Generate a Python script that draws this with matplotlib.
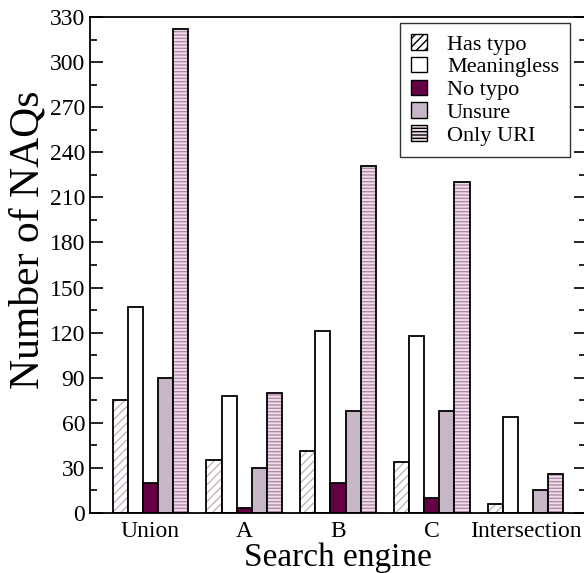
import numpy as np
import matplotlib.pyplot as plt
from matplotlib.ticker import MultipleLocator

plt.rcParams['font.family'] = ['Liberation Serif', 'DejaVu Serif']
plt.rcParams['hatch.linewidth'] = 1.0

# data
engines = ["Union", "A", "B", "C", "Intersection"]
has_typo = [75, 35, 41, 34, 6]
meaningless = [137, 78, 121, 118, 64]
no_typo = [20, 3, 20, 10, 0]
unsure = [90, 30, 68, 68, 15]
only_uri = [322, 80, 231, 220, 26]

series = [
    ("Has typo", has_typo, "white", "////", "#c4b4c4"),
    ("Meaningless", meaningless, "white", None, None),
    ("No typo", no_typo, "#660044", None, None),
    ("Unsure", unsure, "#c6b6c6", None, None),
    ("Only URI", only_uri, "#efdde9", "-----", "#b08ca8"),
]

fig = plt.figure(figsize=(5.84, 5.73), dpi=100)
ax = fig.add_axes([90 / 584, 60 / 573, 496 / 584, 496 / 573])

x = np.arange(len(engines))
w = 0.16
for i, (name, vals, fc, hatch, hc) in enumerate(series):
    pos = x + (i - 2) * w
    # hatch layer, then black outline on top
    ax.bar(pos, vals, w, color=fc, edgecolor=hc if hc else "black",
           hatch=hatch, linewidth=0, label=name)
    ax.bar(pos, vals, w, facecolor="none", edgecolor="black", linewidth=1.3)

ax.set_xlim(-0.64, 4.64)
ax.set_ylim(0, 330)
ax.yaxis.set_major_locator(MultipleLocator(30))
ax.yaxis.set_minor_locator(MultipleLocator(15))
ax.set_xticks(x)
ax.set_xticklabels(engines)
ax.tick_params(axis='y', which='both', direction='in', right=True, labelsize=17)
ax.tick_params(axis='y', which='major', length=9, width=1.2)
ax.tick_params(axis='y', which='minor', length=5, width=1.2)
ax.tick_params(axis='x', length=0, labelsize=17, pad=6)
for s in ax.spines.values():
    s.set_linewidth(1.3)

ax.set_xlabel("Search engine", fontsize=24, labelpad=0)
ax.set_ylabel("Number of NAQs", fontsize=30)
ax.yaxis.set_label_coords(-0.085, 0.55)

handles, labels = ax.get_legend_handles_labels()
leg = ax.legend(handles, labels, loc="upper right", bbox_to_anchor=(0.968, 0.988),
                borderaxespad=0, fontsize=16, frameon=True, fancybox=False,
                edgecolor="black", handlelength=0.7, handleheight=0.7,
                handletextpad=0.9, labelspacing=0.1, borderpad=0.5)
leg.get_frame().set_linewidth(1.0)
for p in leg.get_patches():
    p.set_edgecolor("black")
    p.set_linewidth(1.0)

fig.savefig("out.png", dpi=100)
